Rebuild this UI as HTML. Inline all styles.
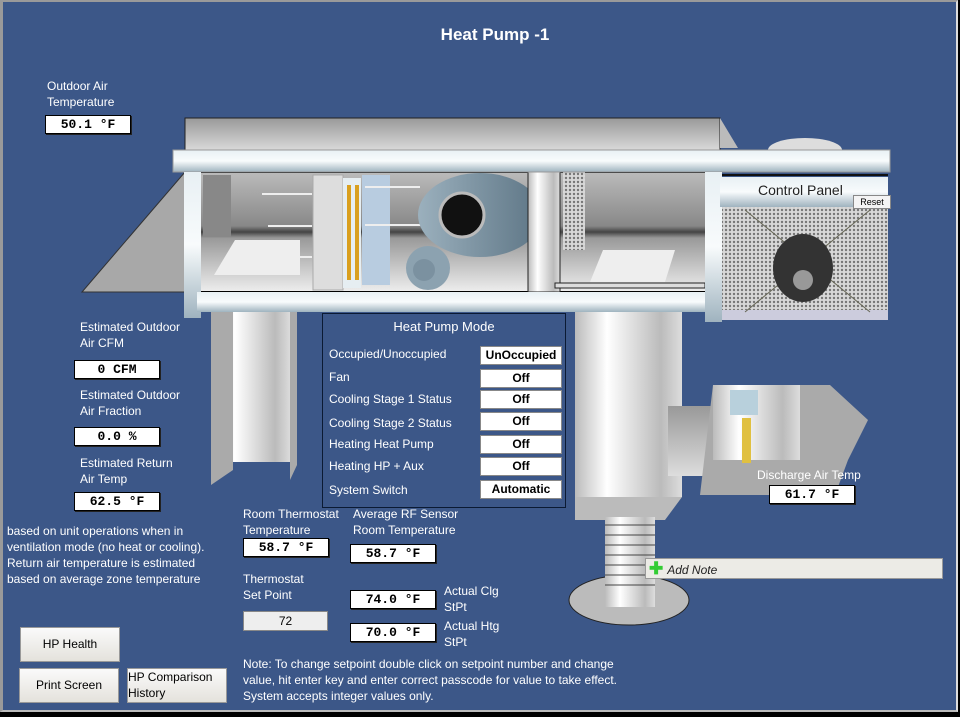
<!DOCTYPE html>
<html><head><meta charset="utf-8"><style>
body{margin:0;background:#000;width:960px;height:717px;overflow:hidden;font-family:"Liberation Sans",sans-serif}
#f{position:absolute;left:0;top:0;width:953px;height:708px;background:#3c5788;border-left:3px solid #9a9a9a;border-top:2px solid #9a9a9a;border-right:2px solid #ddd;border-bottom:2px solid #bbb}
.t{position:absolute;color:#fff;font-size:12px;line-height:16px;white-space:nowrap}
.v{position:absolute;background:#fff;border:1px solid #000;box-shadow:1px 1px 0 #222;font-family:"Liberation Mono",monospace;font-weight:bold;font-size:13px;text-align:center;line-height:17px;height:17px;color:#000}
.m{position:absolute;left:480px;width:80px;height:17px;background:#fff;border:1px solid #888;font-weight:bold;font-size:12px;text-align:center;line-height:17px;color:#000}
.b{position:absolute;background:linear-gradient(#fafafa,#e4e2dc);border:1px solid #999;font-size:12px;color:#000;text-align:center}
</style></head><body><div id="f"></div>
<svg width="960" height="717" style="position:absolute;left:0;top:0">
<defs>
<linearGradient id="gr" x1="0" x2="0" y1="0" y2="1"><stop offset="0" stop-color="#e8f0f4"/><stop offset=".5" stop-color="#f8fbfc"/><stop offset="1" stop-color="#9fb3bf"/></linearGradient>
<linearGradient id="gt" x1="0" x2="0" y1="0" y2="1"><stop offset="0" stop-color="#999"/><stop offset="1" stop-color="#ddd"/></linearGradient>
<linearGradient id="gi" x1="0" x2="0" y1="0" y2="1"><stop offset="0" stop-color="#bbb"/><stop offset=".45" stop-color="#888"/><stop offset=".5" stop-color="#444"/><stop offset=".55" stop-color="#999"/><stop offset="1" stop-color="#eee"/></linearGradient>
<linearGradient id="gc" x1="0" x2="1"><stop offset="0" stop-color="#bbb"/><stop offset=".3" stop-color="#fff"/><stop offset=".8" stop-color="#bbb"/><stop offset="1" stop-color="#ddd"/></linearGradient>
<linearGradient id="gf" x1="0" x2="1"><stop offset="0" stop-color="#9bb0bd"/><stop offset="1" stop-color="#5d7585"/></linearGradient>
<pattern id="mesh" width="4" height="4" patternUnits="userSpaceOnUse"><rect width="4" height="4" fill="#d8d8d8"/><circle cx="2" cy="2" r="1.2" fill="#777"/></pattern>
</defs>
<polygon points="82,292 185,172 185,292" fill="#a8a8a8" stroke="#333"/>
<rect x="185" y="118" width="535" height="34" fill="url(#gt)" stroke="#222"/>
<polygon points="720,118 738,148 720,148" fill="#bbb"/>
<ellipse cx="805" cy="150" rx="37" ry="12" fill="#ddd"/>
<rect x="197" y="172" width="510" height="120" fill="url(#gi)" stroke="#000" stroke-width="2"/>
<rect x="203" y="175" width="28" height="62" fill="#888"/>
<polygon points="214,275 235,240 300,240 300,275" fill="#eee"/>
<rect x="313" y="175" width="30" height="115" fill="#ddd" stroke="#aaa"/>
<rect x="343" y="178" width="18" height="110" fill="#e6eef2"/>
<g fill="#d9a020"><rect x="347" y="185" width="4" height="95"/><rect x="355" y="185" width="4" height="95"/></g>
<rect x="362" y="175" width="28" height="110" fill="#b8cce0"/>
<g stroke="#eee" stroke-width="2"><line x1="262" y1="194" x2="312" y2="194"/><line x1="268" y1="226" x2="312" y2="226"/><line x1="278" y1="257" x2="312" y2="257"/><line x1="365" y1="187" x2="420" y2="187"/><line x1="365" y1="225" x2="425" y2="225"/></g>
<ellipse cx="480" cy="215" rx="62" ry="42" fill="url(#gf)"/>
<circle cx="462" cy="215" r="22" fill="#111" stroke="#bbb" stroke-width="3"/>
<circle cx="428" cy="268" r="22" fill="#8ca2b0"/>
<circle cx="424" cy="270" r="11" fill="#7b91a0"/>
<rect x="528" y="172" width="32" height="120" fill="url(#gc)" stroke="#222"/>
<rect x="563" y="172" width="22" height="78" fill="url(#mesh)"/>
<polygon points="590,282 603,250 675,250 665,282" fill="#eee"/>
<rect x="555" y="283" width="150" height="5" fill="#ddd" stroke="#222"/>
<rect x="173" y="150" width="717" height="22" fill="url(#gr)" stroke="#999"/>
<line x1="705" y1="175" x2="888" y2="175" stroke="#111" stroke-width="2"/>
<rect x="184" y="172" width="17" height="146" fill="url(#gr)"/>
<rect x="197" y="292" width="510" height="20" fill="url(#gr)"/>
<rect x="705" y="172" width="17" height="150" fill="url(#gr)"/>
<rect x="720" y="177" width="168" height="30" fill="url(#gr)"/>
<rect x="722" y="207" width="166" height="113" fill="url(#mesh)"/>
<rect x="722" y="310" width="166" height="10" fill="#ccd"/>
<line x1="745" y1="312" x2="870" y2="210" stroke="#665" /><line x1="745" y1="210" x2="870" y2="312" stroke="#665"/>
<ellipse cx="803" cy="268" rx="30" ry="34" fill="#333"/><circle cx="803" cy="280" r="10" fill="#999"/>
<rect x="211" y="312" width="80" height="150" fill="url(#gc)"/>
<polygon points="211,312 233,312 233,470 211,485" fill="#aaa"/>
<polygon points="290,312 297,312 297,465 290,480" fill="#aaa"/>
<rect x="575" y="312" width="107" height="185" fill="url(#gc)"/>
<polygon points="575,497 682,497 665,520 575,520" fill="#bbb"/>
<ellipse cx="629" cy="600" rx="60" ry="25" fill="#bbb" stroke="#222"/>
<rect x="605" y="517" width="50" height="90" fill="url(#gc)"/>
<g stroke="#444"><line x1="605" y1="525" x2="655" y2="525"/><line x1="605" y1="535" x2="655" y2="535"/><line x1="605" y1="545" x2="655" y2="545"/><line x1="605" y1="555" x2="655" y2="555"/><line x1="605" y1="565" x2="655" y2="565"/><line x1="605" y1="575" x2="655" y2="575"/><line x1="605" y1="585" x2="655" y2="585"/></g>
<rect x="668" y="406" width="45" height="70" fill="url(#gt)"/>
<polygon points="713,385 830,385 868,420 848,460 835,495 700,495" fill="#aaa"/>
<polygon points="713,385 800,385 800,460 713,460" fill="url(#gc)"/>
<rect x="730" y="390" width="28" height="25" fill="#b8d0dc"/>
<rect x="742" y="418" width="9" height="45" fill="#e0c040"/>
</svg>
<div class="t" style="left:0;width:990px;text-align:center;top:25px;font-size:17px;font-weight:bold;line-height:20px">Heat Pump -1</div>
<div class="t" style="left:47px;top:78px">Outdoor Air<br>Temperature</div>
<div class="v" style="left:45px;top:115px;width:84px">50.1 °F</div>
<div class="t" style="left:80px;top:319px">Estimated Outdoor<br>Air CFM</div>
<div class="v" style="left:74px;top:360px;width:84px">0 CFM</div>
<div class="t" style="left:80px;top:387px">Estimated Outdoor<br>Air Fraction</div>
<div class="v" style="left:74px;top:427px;width:84px">0.0 %</div>
<div class="t" style="left:80px;top:455px">Estimated Return<br>Air Temp</div>
<div class="v" style="left:74px;top:492px;width:84px">62.5 °F</div>
<div class="t" style="left:7px;top:523px">based on unit operations when in<br>ventilation mode (no heat or cooling).<br>Return air temperature is estimated<br>based on average zone temperature</div>
<div style="position:absolute;left:322px;top:313px;width:242px;height:193px;border:1px solid #0b1a33"></div>
<div class="t" style="left:322px;top:319px;width:244px;text-align:center;font-size:13px">Heat Pump Mode</div>
<div class="t" style="left:329px;top:346px">Occupied/Unoccupied</div><div class="m" style="top:346px">UnOccupied</div>
<div class="t" style="left:329px;top:369px">Fan</div><div class="m" style="top:369px">Off</div>
<div class="t" style="left:329px;top:391px">Cooling Stage 1 Status</div><div class="m" style="top:390px">Off</div>
<div class="t" style="left:329px;top:415px">Cooling Stage 2 Status</div><div class="m" style="top:412px">Off</div>
<div class="t" style="left:329px;top:436px">Heating Heat Pump</div><div class="m" style="top:435px">Off</div>
<div class="t" style="left:329px;top:458px">Heating HP + Aux</div><div class="m" style="top:457px">Off</div>
<div class="t" style="left:329px;top:482px">System Switch</div><div class="m" style="top:480px">Automatic</div>
<div class="t" style="left:757px;top:467px">Discharge Air Temp</div>
<div class="v" style="left:769px;top:485px;width:84px">61.7 °F</div>
<div style="position:absolute;left:645px;top:558px;width:296px;height:19px;background:#ecebe6;border:1px solid #999;font-size:12px;font-style:italic;line-height:19px;color:#222"><span style="color:#3c3;font-weight:bold;font-size:17px;font-style:normal;margin:0 4px 0 3px">✚</span>Add Note</div>
<div class="t" style="left:853px;top:195px;width:36px;height:12px;background:#f4f4f4;border:1px solid #888;color:#000;font-size:9px;line-height:12px;text-align:center">Reset</div>
<div class="t" style="left:758px;top:182px;color:#222;font-size:14px">Control Panel</div>
<div class="t" style="left:243px;top:506px">Room Thermostat<br>Temperature</div>
<div class="v" style="left:243px;top:538px;width:84px">58.7 °F</div>
<div class="t" style="left:353px;top:506px">Average RF Sensor<br>Room Temperature</div>
<div class="v" style="left:350px;top:544px;width:84px">58.7 °F</div>
<div class="t" style="left:243px;top:571px">Thermostat<br>Set Point</div>
<div style="position:absolute;left:243px;top:611px;width:83px;height:18px;background:#eee;border:1px solid #888;font-size:12px;text-align:center;line-height:18px">72</div>
<div class="v" style="left:350px;top:590px;width:84px">74.0 °F</div>
<div class="t" style="left:444px;top:583px">Actual Clg<br>StPt</div>
<div class="v" style="left:350px;top:623px;width:84px">70.0 °F</div>
<div class="t" style="left:444px;top:618px">Actual Htg<br>StPt</div>
<div class="t" style="left:243px;top:656px">Note: To change setpoint double click on setpoint number and change<br>value, hit enter key and enter correct passcode for value to take effect.<br>System accepts integer values only.</div>
<div class="b" style="left:20px;top:627px;width:98px;height:33px;line-height:33px">HP Health</div>
<div class="b" style="left:19px;top:668px;width:98px;height:33px;line-height:33px">Print Screen</div>
<div class="b" style="left:127px;top:668px;width:98px;height:33px;text-align:left;line-height:16px">HP Comparison<br>History</div>
</body></html>
